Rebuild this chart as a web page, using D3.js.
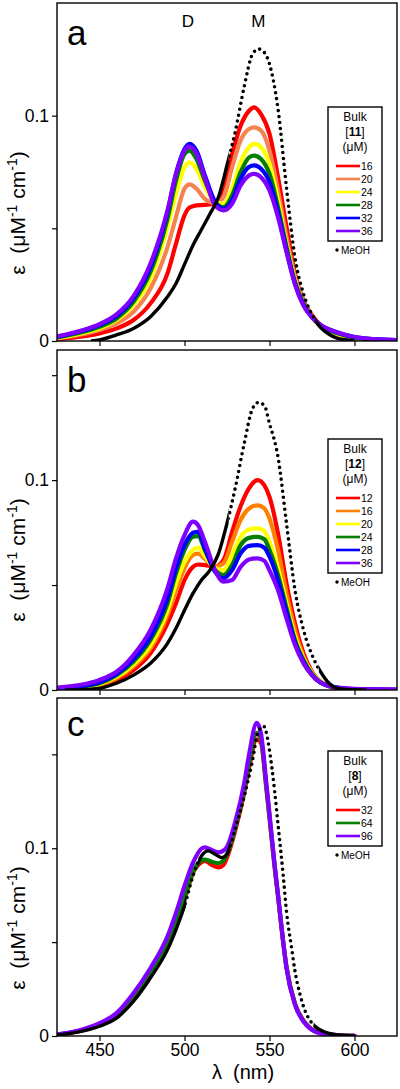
<!DOCTYPE html>
<html><head><meta charset="utf-8">
<script src="https://cdn.jsdelivr.net/npm/d3@7"></script>
<style>
body{margin:0;background:#fff}
svg{display:block}
text{font-family:"Liberation Sans",Arial,Helvetica,sans-serif;fill:#000}
</style>
</head><body>
<svg id="chart" width="400" height="1089"></svg>
<script>
// ---------- DATA ----------
// Panel a : bulk [11]
const wlA = [425,440,450,460,470,480,490,495,500,503,507,512,518,523,528,533,538,541,545,550,555,560,565,570,575,580,590,600,612,625];
const a16 = [0.0008,0.0020,0.0034,0.0056,0.0093,0.0167,0.0300,0.0432,0.0558,0.0592,0.0602,0.0604,0.0610,0.0690,0.0830,0.0955,0.1022,0.1037,0.1007,0.0919,0.0727,0.0506,0.0299,0.0180,0.0115,0.0071,0.0031,0.0012,0.0005,0.0002];
const a20 = [0.0012,0.0030,0.0049,0.0078,0.0130,0.0233,0.0417,0.0550,0.0676,0.0695,0.0676,0.0631,0.0612,0.0639,0.0771,0.0890,0.0941,0.0948,0.0934,0.0845,0.0668,0.0460,0.0285,0.0174,0.0108,0.0064,0.0027,0.0009,0.0004,0.0002];
const a24 = [0.0014,0.0035,0.0056,0.0093,0.0160,0.0278,0.0506,0.0653,0.0771,0.0793,0.0764,0.0683,0.0617,0.0609,0.0676,0.0793,0.0860,0.0875,0.0860,0.0786,0.0624,0.0430,0.0270,0.0167,0.0108,0.0067,0.0031,0.0012,0.0005,0.0003];
const a28 = [0.0016,0.0040,0.0063,0.0100,0.0174,0.0307,0.0543,0.0712,0.0830,0.0845,0.0808,0.0712,0.0617,0.0594,0.0646,0.0749,0.0815,0.0823,0.0808,0.0742,0.0594,0.0417,0.0262,0.0167,0.0108,0.0068,0.0034,0.0015,0.0006,0.0003];
const a32 = [0.0018,0.0045,0.0071,0.0110,0.0189,0.0329,0.0572,0.0742,0.0852,0.0875,0.0845,0.0735,0.0617,0.0587,0.0624,0.0720,0.0773,0.0779,0.0764,0.0705,0.0572,0.0402,0.0254,0.0160,0.0105,0.0071,0.0038,0.0018,0.0008,0.0004];
const a36 = [0.0020,0.0048,0.0075,0.0118,0.0199,0.0344,0.0580,0.0742,0.0845,0.0863,0.0833,0.0724,0.0602,0.0580,0.0609,0.0690,0.0735,0.0742,0.0727,0.0668,0.0550,0.0395,0.0251,0.0157,0.0105,0.0071,0.0038,0.0018,0.0008,0.0004];
const wlMeohA = [445,450,460,470,480,490,495,500,505,510,515,520,525,530,535,540,543.5,547,550,555,560,565,570,575,580,585,590,600];
const meohA   = [0,0.0005,0.0027,0.0056,0.0108,0.0196,0.0255,0.0340,0.0425,0.0495,0.0565,0.0639,0.0780,0.0934,0.1125,0.1273,0.1296,0.1280,0.1229,0.1030,0.0680,0.0370,0.0210,0.0118,0.0060,0.0030,0.0012,0.0002];

// Panel b : bulk [12]
const wlB = [425,440,450,460,470,480,490,495,500,505,508,512,518,523,528,533,538,543,547,550,555,560,565,570,575,580,590,600,612,625];
const b12 = [0.0003,0.0008,0.0016,0.0048,0.0095,0.0175,0.0317,0.0413,0.0524,0.0587,0.0598,0.0595,0.0588,0.0620,0.0753,0.0876,0.0962,0.1000,0.0975,0.0920,0.0746,0.0508,0.0317,0.0175,0.0087,0.0040,0.0008,0.0002,0.0001,0];
const b16 = [0.0005,0.0012,0.0024,0.0056,0.0111,0.0198,0.0357,0.0476,0.0580,0.0643,0.0650,0.0625,0.0588,0.0605,0.0706,0.0810,0.0865,0.0880,0.0865,0.0817,0.0667,0.0460,0.0286,0.0159,0.0083,0.0040,0.0008,0.0002,0.0001,0];
const b20 = [0.0006,0.0014,0.0029,0.0063,0.0122,0.0214,0.0380,0.0508,0.0611,0.0667,0.0679,0.0637,0.0580,0.0571,0.0643,0.0730,0.0765,0.0770,0.0757,0.0706,0.0580,0.0413,0.0254,0.0151,0.0080,0.0038,0.0009,0.0003,0.0001,0];
const b24 = [0.0007,0.0016,0.0032,0.0070,0.0135,0.0238,0.0413,0.0556,0.0667,0.0730,0.0733,0.0667,0.0571,0.0548,0.0595,0.0690,0.0725,0.0730,0.0718,0.0667,0.0548,0.0390,0.0238,0.0143,0.0076,0.0036,0.0010,0.0003,0.0001,0];
const b28 = [0.0008,0.0019,0.0037,0.0076,0.0146,0.0254,0.0437,0.0580,0.0690,0.0749,0.0754,0.0675,0.0563,0.0532,0.0571,0.0651,0.0687,0.0690,0.0678,0.0635,0.0524,0.0373,0.0227,0.0135,0.0071,0.0035,0.0012,0.0004,0.0002,0.0001];
const b36 = [0.0012,0.0026,0.0048,0.0087,0.0167,0.0286,0.0484,0.0627,0.0738,0.0802,0.0785,0.0706,0.0571,0.0516,0.0524,0.0587,0.0622,0.0627,0.0615,0.0570,0.0476,0.0341,0.0214,0.0127,0.0071,0.0036,0.0011,0.0006,0.0004,0.0003];
const wlMeohB = [430,440,450,460,470,480,490,495,500,505,510,515,520,525,530,535,540,543.5,547,550,555,560,565,570,575,580,585,590,600,607];
const meohB   = [0,0.0002,0.0008,0.0032,0.0071,0.0127,0.0222,0.0294,0.0380,0.0460,0.0524,0.0571,0.0650,0.0794,0.0968,0.1170,0.1340,0.1370,0.1355,0.1270,0.1110,0.0794,0.0476,0.0286,0.0167,0.0087,0.0032,0.0008,0.0001,0];

// Panel c : bulk [8]
const wlC = [425,440,450,460,470,480,490,495,500,505,510,512,516,520,523,525,530,535,538,542.5,545,548,550,553,555,558,560,565,570,575,580,590,600];
const c32 = [0.0007,0.0031,0.0060,0.0110,0.0205,0.0332,0.0488,0.0600,0.0728,0.0868,0.0925,0.0932,0.0912,0.0898,0.0912,0.0950,0.1100,0.1290,0.1430,0.1580,0.1560,0.1330,0.1160,0.0900,0.0745,0.0505,0.0368,0.0172,0.0082,0.0035,0.0016,0.0005,0.0001];
const c64 = [0.0007,0.0032,0.0062,0.0113,0.0210,0.0338,0.0495,0.0606,0.0735,0.0875,0.0935,0.0940,0.0928,0.0920,0.0935,0.0968,0.1115,0.1305,0.1450,0.1615,0.1580,0.1340,0.1170,0.0905,0.0748,0.0505,0.0365,0.0170,0.0080,0.0034,0.0015,0.0004,0.0001];
const c96 = [0.0008,0.0035,0.0068,0.0122,0.0228,0.0362,0.0531,0.0656,0.0799,0.0923,0.0998,0.1005,0.0991,0.0978,0.0988,0.1008,0.1146,0.1340,0.1500,0.1667,0.1610,0.1360,0.1182,0.0914,0.0754,0.0505,0.0362,0.0166,0.0077,0.0032,0.0014,0.0004,0.0001];
const wlMeohC = [425,440,450,460,470,480,490,495,500,505,510,514,518,522,525,530,535,540,543,546.5,548,550,553,555,558,560,563,565,568,570,575,580,590,600];
const meohC   = [0.0005,0.0026,0.0052,0.0095,0.0185,0.0310,0.0460,0.0567,0.0692,0.0852,0.0959,0.0986,0.0968,0.0950,0.0968,0.1111,0.1271,0.1467,0.1610,0.1650,0.1620,0.1520,0.1306,0.1128,0.0861,0.0663,0.0469,0.0345,0.0220,0.0157,0.0068,0.0032,0.0005,0];

const xTicks = [450,500,550,600];
const yTicks = [0,0.05,0.1,0.15];
const yTickLabels = {0:"0", 0.1:"0.1"};
const peakLabels = [{t:"D", nm:502},{t:"M", nm:543.5}];

// ---------- LAYOUT ----------
const colA = ["#ff0000","#f5834f","#ffff00","#007f00","#0000ff","#8000ff"];
const colB = ["#ff0000","#ff8000","#ffff00","#007f00","#0000ff","#8000ff"];
const colC = ["#ff0000","#007f00","#8000ff"];

const panels = [
  {letter:"a", top:3, bottom:341, ymax:0.15, wl:wlA,
   series:[["16",a16],["20",a20],["24",a24],["28",a28],["32",a32],["36",a36]], colors:colA,
   mwl:wlMeohA, meoh:meohA, cmpd:"11", legTop:107, solid:[[440,526],[577,610]],
   letterY:45, ylabY:213, peaks:true, xlabels:false},
  {letter:"b", top:350, bottom:690, ymax:0.162, wl:wlB,
   series:[["12",b12],["16",b16],["20",b20],["24",b24],["28",b28],["36",b36]], colors:colB,
   mwl:wlMeohB, meoh:meohB, cmpd:"12", legTop:439, solid:[[425,526],[579,610]],
   letterY:392, ylabY:560, peaks:false, xlabels:false},
  {letter:"c", top:698, bottom:1036, ymax:0.18, wl:wlC,
   series:[["32",c32],["64",c64],["96",c96]], colors:colC,
   mwl:wlMeohC, meoh:meohC, cmpd:"8", legTop:751, solid:[[420,501],[508,527],[576,610]],
   letterY:736, ylabY:928, peaks:false, xlabels:true}
];

const svg = d3.select("#chart");
const L = 57, R = 397;
const x = d3.scaleLinear().domain([425,625]).range([L,R]);

panels.forEach((p,pi) => {
  const y = d3.scaleLinear().domain([0,p.ymax]).range([p.bottom,p.top]);
  const g = svg.append("g");
  const clipId = "clip"+pi;
  svg.append("clipPath").attr("id",clipId).append("rect")
    .attr("x",L).attr("y",p.top).attr("width",R-L).attr("height",p.bottom-p.top);

  const line = d3.line().x(d=>x(d[0])).y(d=>y(d[1])).curve(d3.curveMonotoneX);
  const plot = g.append("g").attr("clip-path",`url(#${clipId})`);

  p.series.forEach((s,i) => {
    const pts = p.wl.map((w,k)=>[w,s[1][k]]);
    plot.append("path").attr("d",line(pts)).attr("fill","none")
      .attr("stroke",p.colors[i]).attr("stroke-width",4.2)
      .attr("stroke-linejoin","round").attr("stroke-linecap","round");
  });

  // MeOH: solid where the measured dots overlap, dotted elsewhere
  const mpts = p.mwl.map((w,k)=>[w,p.meoh[k]]);
  const solidId = "solid"+pi, dotId = "dot"+pi;
  const cs = svg.append("clipPath").attr("id",solidId);
  p.solid.forEach(r => cs.append("rect").attr("x",x(r[0])).attr("width",x(r[1])-x(r[0]))
      .attr("y",p.top).attr("height",p.bottom-p.top+5));
  const cd = svg.append("clipPath").attr("id",dotId);
  const edges = [420].concat(...p.solid).concat([630]);
  for (let k=0;k<edges.length;k+=2){
    cd.append("rect").attr("x",x(edges[k])).attr("width",Math.max(0,x(edges[k+1])-x(edges[k])))
      .attr("y",p.top).attr("height",p.bottom-p.top+5);
  }
  const mg = plot.append("g");
  mg.append("path").attr("d",line(mpts)).attr("fill","none").attr("stroke","#000")
    .attr("stroke-width",3.4).attr("clip-path",`url(#${solidId})`);
  mg.append("path").attr("d",line(mpts)).attr("fill","none").attr("stroke","#000")
    .attr("stroke-width",3.6).attr("stroke-linecap","round").attr("stroke-dasharray","0 6")
    .attr("clip-path",`url(#${dotId})`);

  // frame
  g.append("rect").attr("x",L).attr("y",p.top).attr("width",R-L).attr("height",p.bottom-p.top)
    .attr("fill","none").attr("stroke","#000").attr("stroke-width",1.4);

  // y axis
  const ya = d3.axisLeft(y).tickValues(yTicks.filter(v=>v<p.ymax-0.001)).tickSize(5).tickPadding(3)
    .tickFormat(v => yTickLabels[v] !== undefined ? yTickLabels[v] : "");
  const yg = g.append("g").attr("transform",`translate(${L},0)`).call(ya);
  yg.select(".domain").remove();
  yg.selectAll("line").attr("stroke","#000").attr("stroke-width",1.2);
  yg.selectAll("text").attr("font-size",17.5).attr("font-family",'"Liberation Sans",Arial,sans-serif').attr("fill","#000");

  // x axis
  const xa = d3.axisBottom(x).tickValues(xTicks).tickSize(5).tickPadding(3)
    .tickFormat(p.xlabels ? d3.format("d") : () => "");
  const xg = g.append("g").attr("transform",`translate(0,${p.bottom})`).call(xa);
  xg.select(".domain").remove();
  xg.selectAll("line").attr("stroke","#000").attr("stroke-width",1.2);
  xg.selectAll("text").attr("font-size",17.5).attr("font-family",'"Liberation Sans",Arial,sans-serif').attr("fill","#000");

  // panel letter
  g.append("text").attr("x",67).attr("y",p.letterY).attr("font-size",35).text(p.letter);

  // y label
  const yl = g.append("text").attr("transform",`translate(25,${p.ylabY}) rotate(-90)`)
    .attr("text-anchor","middle").attr("font-size",21).style("white-space","pre");
  yl.append("tspan").text("ε  (μM");
  yl.append("tspan").attr("dy",-8).attr("font-size",14).text("-1");
  yl.append("tspan").attr("dy",8).text(" cm");
  yl.append("tspan").attr("dy",-8).attr("font-size",14).text("-1");
  yl.append("tspan").attr("dy",8).text(")");

  if (p.peaks) {
    peakLabels.forEach(pl => g.append("text").attr("x",x(pl.nm)).attr("y",27)
      .attr("text-anchor","middle").attr("font-size",17).text(pl.t));
  }

  // legend
  const lt = p.legTop, lx = 328, lw = 54, cx = lx + lw/2;
  const n = p.series.length;
  const firstY = lt + 59, step = 13;
  const boxBottom = firstY + (n-1)*step + 10;
  g.append("rect").attr("x",lx).attr("y",lt).attr("width",lw).attr("height",boxBottom-lt)
    .attr("fill","#fff").attr("stroke","#000").attr("stroke-width",1.4);
  g.append("text").attr("x",cx).attr("y",lt+14).attr("text-anchor","middle").attr("font-size",12).text("Bulk");
  const ct = g.append("text").attr("x",cx).attr("y",lt+29).attr("text-anchor","middle").attr("font-size",12);
  ct.append("tspan").text("[");
  ct.append("tspan").attr("font-weight","bold").text(p.cmpd);
  ct.append("tspan").text("]");
  g.append("text").attr("x",cx).attr("y",lt+44).attr("text-anchor","middle").attr("font-size",12).text("(μM)");
  p.series.forEach((s,i) => {
    const yy = firstY + i*step;
    g.append("line").attr("x1",336).attr("x2",360).attr("y1",yy).attr("y2",yy)
      .attr("stroke",p.colors[i]).attr("stroke-width",2.6);
    g.append("text").attr("x",361).attr("y",yy+4).attr("font-size",10.5).text(s[0]);
  });
  g.append("circle").attr("cx",337).attr("cy",boxBottom+9).attr("r",1.7).attr("fill","#000");
  g.append("text").attr("x",341).attr("y",boxBottom+13).attr("font-size",10).text("MeOH");
});

// x label
svg.append("text").attr("x",243).attr("y",1079).attr("text-anchor","middle")
  .attr("font-size",20).style("white-space","pre").text("λ  (nm)");
</script>
</body></html>
